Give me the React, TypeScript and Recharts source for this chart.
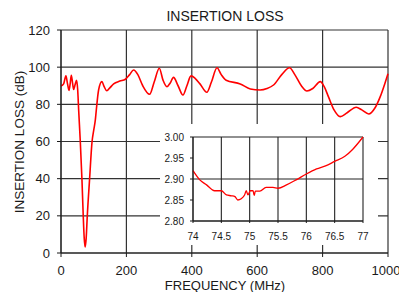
import { LineChart, Line, XAxis, YAxis, CartesianGrid } from 'recharts'

// main sweep, 0-1000 MHz
const freqMHz = [
  0, 8, 15, 20, 24.5, 28, 31.5, 35, 38.5, 43, 47.7, 51, 54, 59, 64, 68, 71, 74, 77, 80.4, 87.5, 95, 100, 105, 108,
  115, 125, 132, 140, 150, 161, 180, 197, 210, 222, 235, 250, 271, 285, 300.6, 312, 324, 334, 344, 358, 373, 385,
  397.6, 410, 425, 446, 460, 477, 490, 505, 548, 579, 609, 630, 650, 675, 699, 715, 735, 752, 770, 793, 805, 818,
  835, 854, 875, 903, 920, 941, 960, 976, 990, 1000,
]
const lossDb = [
  89.9, 91, 95.3, 91, 87.5, 91, 95.6, 92, 88, 90.5, 93, 88, 77, 60, 40, 20, 8, 3.2, 8, 20, 40, 60, 66, 71.6, 77,
  87.7, 92.2, 89.5, 87.3, 89, 91, 92.5, 93.5, 96, 98.5, 96, 90, 85.4, 92, 99.4, 93, 89.5, 91.5, 94.5, 90, 85, 90,
  95.3, 94, 91, 86.5, 92, 99.7, 96, 93, 91, 88.3, 87.7, 88.5, 90.4, 96, 99.7, 96, 90, 87.2, 88.5, 92.2, 89.5, 84,
  77, 73.4, 75.5, 78.4, 77, 74.8, 78, 84, 91, 96.5,
]
const freqTicks = [0, 200, 400, 600, 800, 1000]
const lossTicks = [0, 20, 40, 60, 80, 100, 120]

// zoomed view around the notch, 74-77 MHz
const zoomFreq = [
  74, 74.12, 74.24, 74.38, 74.5, 74.59, 74.68, 74.74, 74.79, 74.85, 74.91, 74.94, 74.97, 75.01, 75.06, 75.08, 75.1,
  75.18, 75.29, 75.41, 75.5, 75.65, 75.82, 76, 76.18, 76.35, 76.5, 76.68, 76.82, 77,
]
const zoomLoss = [
  2.92, 2.898, 2.886, 2.872, 2.872, 2.862, 2.86, 2.858, 2.85, 2.853, 2.862, 2.872, 2.862, 2.872, 2.872, 2.861, 2.871,
  2.871, 2.88, 2.88, 2.878, 2.886, 2.898, 2.912, 2.924, 2.932, 2.942, 2.954, 2.971, 3.0,
]
const zoomFreqTicks = [74, 74.5, 75, 75.5, 76, 76.5, 77]
const zoomLossTicks = [2.8, 2.85, 2.9, 2.95, 3.0]

const mainData = freqMHz.map((f, i) => ({ f, db: lossDb[i] }))
const zoomData = zoomFreq.map((f, i) => ({ f, db: zoomLoss[i] }))

const font = '"Liberation Sans", Arial, Helvetica, sans-serif'
const ink = '#1a1a1a'

export default function App() {
  return (
    <div style={{ position: 'relative', width: 399, height: 292, background: '#fff', fontFamily: font }}>
      <style>{'body{margin:0}'}</style>
      <LineChart width={399} height={292} data={mainData} margin={{ top: 30, right: 11, left: 0, bottom: 0 }}>
        <CartesianGrid stroke="#333" strokeWidth={1.2} />
        <XAxis
          dataKey="f"
          type="number"
          domain={[0, 1000]}
          ticks={freqTicks}
          height={39}
          tickSize={4}
          tickMargin={9}
          stroke={ink}
          tick={{ fill: ink, fontSize: 13, fontFamily: font }}
        />
        <YAxis
          type="number"
          domain={[0, 120]}
          ticks={lossTicks}
          width={61}
          tickSize={4}
          tickMargin={7}
          stroke={ink}
          tick={{ fill: ink, fontSize: 13, fontFamily: font }}
        />
        <Line dataKey="db" type="monotone" stroke="#ff0000" strokeWidth={1.6} dot={false} isAnimationActive={false} />
      </LineChart>

      <div style={{ position: 'absolute', left: 160, top: 124, width: 218, height: 121, background: '#fff' }}>
        <LineChart width={218} height={121} data={zoomData} margin={{ top: 13, right: 15, left: 0, bottom: 0 }}>
          <CartesianGrid stroke="#222" strokeWidth={1.1} />
          <XAxis
            dataKey="f"
            type="number"
            domain={[74, 77]}
            ticks={zoomFreqTicks}
            height={24}
            tickSize={2}
            tickMargin={10}
            stroke={ink}
            tick={{ fill: ink, fontSize: 10, fontFamily: font }}
          />
          <YAxis
            type="number"
            domain={[2.8, 3.0]}
            ticks={zoomLossTicks}
            width={33}
            tickSize={3}
            tickMargin={6}
            stroke={ink}
            tickFormatter={(v: number) => v.toFixed(2)}
            tick={{ fill: ink, fontSize: 10, fontFamily: font }}
          />
          <Line dataKey="db" type="monotone" stroke="#ff0000" strokeWidth={1.3} dot={false} isAnimationActive={false} />
        </LineChart>
      </div>

      <svg width={399} height={292} style={{ position: 'absolute', left: 0, top: 0, pointerEvents: 'none' }}>
        <text x={225} y={21} textAnchor="middle" fontSize={14} fill={ink} fontFamily={font}>
          INSERTION LOSS
        </text>
        <text x={225} y={290} textAnchor="middle" fontSize={13} fill={ink} fontFamily={font}>
          FREQUENCY (MHz)
        </text>
        <text
          x={23.5}
          y={142}
          textAnchor="middle"
          fontSize={13.5}
          fill={ink}
          fontFamily={font}
          transform="rotate(-90, 23.5, 142)"
        >
          INSERTION LOSS (dB)
        </text>
      </svg>
    </div>
  )
}
